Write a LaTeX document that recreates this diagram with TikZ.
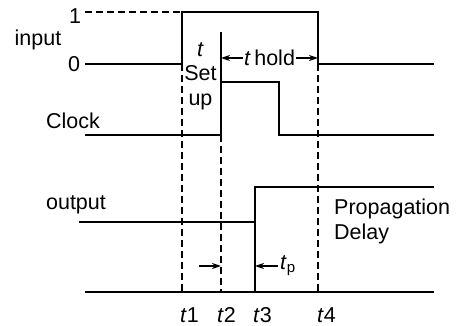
\documentclass[tikz,border=0pt]{standalone}
\usepackage{fontspec}
\setmainfont{Liberation Sans}
\usepackage{tikz}
\usetikzlibrary{arrows.meta}

\begin{document}
\begin{tikzpicture}[x=10pt, y=10pt,
  wave/.style={line width=1.4pt},
  guide/.style={line width=1.3pt, dash pattern=on 7pt off 4pt},
  tip/.style={-{Stealth[length=9pt,width=6pt]}, line width=1.3pt},
  lbl/.style={font=\fontsize{21.5}{25}\selectfont, inner sep=2pt}]
  \useasboundingbox (0,0) rectangle (45.8,32.6);

  % Time instants
  \coordinate (t1) at (18.2,3.4);
  \coordinate (t2) at (22.1,3.4);
  \coordinate (t3) at (25.5,3.4);
  \coordinate (t4) at (31.8,3.4);

  % Input
  \node[lbl] (input) at (3.8,28.6) {input};
  \node[lbl] (one) at (7.5,31.0) {1};
  \node[lbl] (zero) at (7.4,26.2) {0};
  \draw[guide] (8.5,31.4) -- (18.2,31.4);
  \draw[wave] (8.5,26.2) -- (18.2,26.2) -- (18.2,31.4) -- (31.8,31.4) -- (31.8,26.2) -- (43.4,26.2);

  % Clock
  \node[lbl] (clock) at (7.3,20.5) {Clock};
  \draw[wave] (8.5,19.1) -- (22.1,19.1) -- (22.1,29.4);
  \draw[wave] (22.1,24.4) -- (27.9,24.4) -- (27.9,19.1) -- (43.4,19.1);

  % Output
  \node[lbl] (output) at (7.6,12.1) {output};
  \draw[wave] (7.9,10.4) -- (25.5,10.4) -- (25.5,13.9) -- (43.4,13.9);
  \draw[wave] (25.5,10.4) -- (t3);
  \draw[wave] (8.5,3.4) -- (43.4,3.4);

  % Guide lines
  \draw[guide] (18.2,26.2) -- (t1);
  \draw[guide] (22.1,19.1) -- (t2);
  \draw[guide] (31.8,26.2) -- (t4);

  % Setup and hold
  \node[lbl, align=center, font=\fontsize{21.5}{24.5}\selectfont] (setup) at (20.05,25.0) {\textit{t}\\Set\\up};
  \coordinate (hl) at (22.1,26.8);
  \coordinate (hr) at (31.8,26.8);
  \draw[tip, <->, >={Stealth[length=9pt,width=6pt]}] (hl) -- (hr)
    node[lbl, midway, fill=white, inner sep=1pt] (hold) {\textit{t}\,hold};

  % Propagation delay
  \coordinate (pa) at (19.9,6.0);
  \draw[tip] (pa) -- (22.1,6.0);
  \node[lbl, anchor=west] (tp) at (27.8,6.0) {\textit{t}\textsubscript{p}};
  \draw[tip] (tp.west) -- (25.5,6.0);
  \node[lbl, anchor=north west, align=left, font=\fontsize{21.5}{25}\selectfont] (prop) at (33.2,12.9) {Propagation\\Delay};

  % Time labels
  \foreach \t/\x in {1/18.0, 2/21.7, 3/25.3, 4/31.7}
    \node[lbl, anchor=west, inner sep=0pt] (lab\t) at (\x,1.05) {\textit{t}\t};
\end{tikzpicture}
\end{document}
